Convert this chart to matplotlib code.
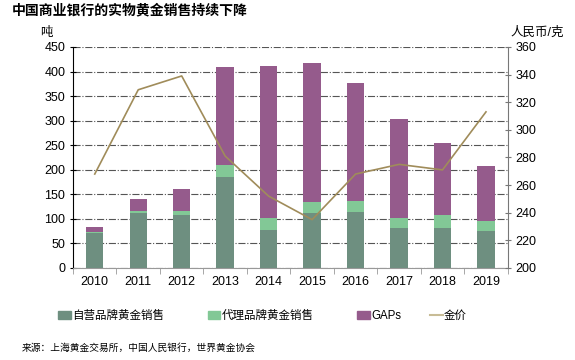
import matplotlib
matplotlib.use('Agg')
import numpy as np
import matplotlib.pyplot as plt
from matplotlib.patches import Patch
from matplotlib.lines import Line2D

plt.rcParams['font.family'] = ['Liberation Sans', 'Noto Sans CJK SC', 'DejaVu Sans']

# 数据
years = ['2010', '2011', '2012', '2013', '2014', '2015', '2016', '2017', '2018', '2019']
own_brand = [72, 111, 107, 186, 78, 111, 113, 82, 82, 76]
agent_brand = [2, 5, 9, 24, 24, 24, 24, 20, 25, 20]
gaps = [10, 25, 44, 199, 309, 283, 239, 201, 147, 112]
gold_price = [268, 329, 339, 281, 252, 235, 268, 275, 271, 313]

C_OWN = '#6E8F80'
C_AGENT = '#82C896'
C_GAPS = '#955B8C'
C_GOLD = '#A08C5A'

fig = plt.figure(figsize=(5.75, 3.6), dpi=100)
ax = fig.add_axes([0.127, 0.2556, 0.756, 0.614])
ax2 = ax.twinx()

x = np.arange(len(years))
w = 0.4
own = np.array(own_brand)
agent = np.array(agent_brand)
ax.bar(x, own, w, color=C_OWN, zorder=3)
ax.bar(x, agent, w, bottom=own, color=C_AGENT, zorder=3)
ax.bar(x, gaps, w, bottom=own + agent, color=C_GAPS, zorder=3)

ax2.plot(x, gold_price, color=C_GOLD, lw=1.2, zorder=4)

ax.set_xlim(-0.5, len(years) - 0.5)
ax.set_ylim(0, 450)
ax.set_yticks(range(0, 451, 50))
ax2.set_ylim(200, 360)
ax2.set_yticks(range(200, 361, 20))

ax.yaxis.grid(True, color='#555555', linestyle='-.', lw=0.8, zorder=0)
ax.set_axisbelow(True)

ax.set_xticks(x)
ax.set_xticklabels(years)
ax.set_xticks(np.arange(-0.5, len(years), 1), minor=True)
ax.tick_params(axis='x', which='major', length=0, labelsize=9, pad=6)
ax.tick_params(axis='x', which='minor', length=4, color='#999999')
ax.tick_params(axis='y', labelsize=9, length=4, direction='inout', color='black')
ax2.tick_params(axis='y', labelsize=9, length=4, direction='inout', color='#777777')

for s in ['top', 'right']:
    ax.spines[s].set_visible(False)
ax2.spines['top'].set_visible(False)
ax2.spines['left'].set_visible(False)
ax2.spines['bottom'].set_visible(False)
ax2.spines['right'].set_color('#777777')
ax.spines['bottom'].set_color('#999999')
ax.spines['left'].set_color('black')

fig.text(0.02, 0.99, '中国商业银行的实物黄金销售持续下降', fontsize=10,
         fontweight='bold', va='top')
fig.text(0.07, 0.925, '吨', fontsize=9, va='top')
fig.text(0.98, 0.925, '人民币/克', fontsize=9, va='top', ha='right')

# 图例：四项分开摆放，位置对照原图
handles = [
    Patch(color=C_OWN, label='自营品牌黄金销售'),
    Patch(color=C_AGENT, label='代理品牌黄金销售'),
    Patch(color=C_GAPS, label='GAPs'),
    Line2D([0], [0], color='#C8BC96', lw=1.5, label='金价'),
]
legend_x = [0.101, 0.361, 0.621, 0.748]
for h, lx in zip(handles, legend_x):
    fig.legend(handles=[h], loc='center left', bbox_to_anchor=(lx, 0.122),
               frameon=False, fontsize=8.3, handlelength=1.1, handletextpad=0.1,
               borderpad=0, borderaxespad=0)

fig.text(0.038, 0.035, '来源：上海黄金交易所，中国人民银行，世界黄金协会', fontsize=7,
         va='center')

fig.savefig('out.png', dpi=100)
